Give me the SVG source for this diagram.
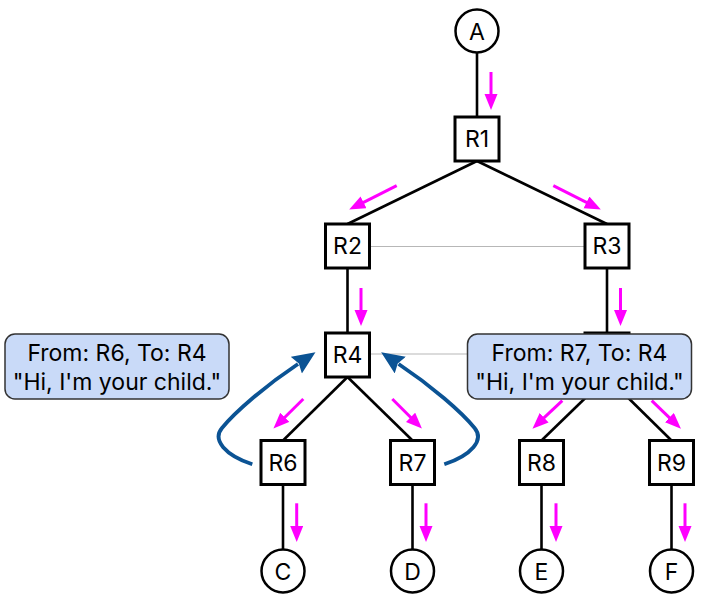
<svg xmlns="http://www.w3.org/2000/svg" width="713" height="602" viewBox="0 0 713 602">
<style>
text{font-family:Inter,Roboto,"Liberation Sans",sans-serif;fill:#000;text-anchor:middle}
.lbl{font-size:23px}
.box{fill:#fff;stroke:#000;stroke-width:3}
.cir{fill:#fff;stroke:#000;stroke-width:2.5}
.edge{stroke:#000;stroke-width:2.6;fill:none}
.peer{stroke:#b7b7b7;stroke-width:1.2;fill:none}
.flow{stroke:#ff00ff;stroke-width:3;fill:none;marker-end:url(#mh)}
.back{stroke:#0b5394;stroke-width:3.8;fill:none;marker-end:url(#bh)}
.call{fill:#c9daf8;stroke:#333;stroke-width:1.5}
.ct{font-size:23px}
</style>
<defs>
<marker id="mh" markerUnits="userSpaceOnUse" markerWidth="18" markerHeight="14" refX="1" refY="6.5" orient="auto">
<path d="M0,0 L16,6.5 L0,13 z" fill="#ff00ff"/>
</marker>
<marker id="bh" markerUnits="userSpaceOnUse" markerWidth="26" markerHeight="22" refX="2" refY="10" orient="auto">
<path d="M0,0 L23,10 L0,20 L3,10 z" fill="#0b5394"/>
</marker>
</defs>
<g id="connectors">
<line class="edge" x1="477" y1="52.5" x2="477" y2="117"/>
<line class="edge" x1="477" y1="161" x2="347.5" y2="224"/>
<line class="edge" x1="477" y1="161" x2="607" y2="224"/>
<line class="edge" x1="347.5" y1="268" x2="347.5" y2="333"/>
<line class="edge" x1="607" y1="268" x2="607" y2="333"/>
<line class="edge" x1="347.5" y1="377" x2="283" y2="440.5"/>
<line class="edge" x1="347.5" y1="377" x2="412.5" y2="440.5"/>
<line class="edge" x1="607" y1="377" x2="541.5" y2="440.5"/>
<line class="edge" x1="607" y1="377" x2="671.5" y2="440.5"/>
<line class="edge" x1="283" y1="484.5" x2="283" y2="549"/>
<line class="edge" x1="412.5" y1="484.5" x2="412.5" y2="549"/>
<line class="edge" x1="541.5" y1="484.5" x2="541.5" y2="549"/>
<line class="edge" x1="671.5" y1="484.5" x2="671.5" y2="549"/>
<line class="peer" x1="369" y1="246.5" x2="585" y2="246.5"/>
<line class="peer" x1="370" y1="354" x2="468" y2="354"/>
<line class="flow" x1="491" y1="72" x2="491" y2="95"/>
<line class="flow" x1="396.7" y1="185.7" x2="362.6" y2="202.8"/>
<line class="flow" x1="553.3" y1="185.7" x2="587.4" y2="202.8"/>
<line class="flow" x1="361" y1="288" x2="361" y2="311"/>
<line class="flow" x1="620.5" y1="288" x2="620.5" y2="311"/>
<line class="flow" x1="303.3" y1="399" x2="284.1" y2="418"/>
<line class="flow" x1="392.3" y1="399" x2="411.3" y2="418"/>
<line class="flow" x1="562.3" y1="400.7" x2="543.4" y2="418.4"/>
<line class="flow" x1="651.7" y1="400.7" x2="670.1" y2="418.3"/>
<line class="flow" x1="296.7" y1="503.3" x2="296.7" y2="527"/>
<line class="flow" x1="426" y1="503.3" x2="426" y2="527"/>
<line class="flow" x1="556" y1="503.3" x2="556" y2="527"/>
<line class="flow" x1="685" y1="503.3" x2="685" y2="527"/>
<path class="back" d="M252.3,464.3 C225,455 212,440 222,428 C235,412 265,386 298,364"/>
<path class="back" d="M444.3,464.3 C471.6,455 484.6,440 474.6,428 C461.6,412 431.6,386 398.6,364"/>
</g>
<g id="A"><circle class="cir" cx="477" cy="31" r="21.5"/><text class="lbl" x="477" y="39.5">A</text></g>
<g id="R1"><rect class="box" x="455" y="117" width="44" height="44"/><text class="lbl" x="477" y="146.5">R1</text></g>
<g id="R2"><rect class="box" x="325.5" y="224" width="44" height="44"/><text class="lbl" x="347.5" y="253.5">R2</text></g>
<g id="R3"><rect class="box" x="585" y="224" width="44" height="44"/><text class="lbl" x="607" y="253.5">R3</text></g>
<g id="R4"><rect class="box" x="325.5" y="333" width="44" height="44"/><text class="lbl" x="347.5" y="362.5">R4</text></g>
<g id="R5"><rect class="box" x="585" y="333" width="44" height="44"/></g>
<g id="R6"><rect class="box" x="261" y="440.5" width="44" height="44"/><text class="lbl" x="283" y="470.5">R6</text></g>
<g id="R7"><rect class="box" x="390.5" y="440.5" width="44" height="44"/><text class="lbl" x="412.5" y="470.5">R7</text></g>
<g id="R8"><rect class="box" x="519.5" y="440.5" width="44" height="44"/><text class="lbl" x="541.5" y="470.5">R8</text></g>
<g id="R9"><rect class="box" x="649.5" y="440.5" width="44" height="44"/><text class="lbl" x="671.5" y="470.5">R9</text></g>
<g id="C"><circle class="cir" cx="283" cy="571" r="21.5"/><text class="lbl" x="283" y="579.5">C</text></g>
<g id="D"><circle class="cir" cx="412.5" cy="571" r="21.5"/><text class="lbl" x="412.5" y="579.5">D</text></g>
<g id="E"><circle class="cir" cx="541.5" cy="571" r="21.5"/><text class="lbl" x="541.5" y="579.5">E</text></g>
<g id="F"><circle class="cir" cx="671.5" cy="571" r="21.5"/><text class="lbl" x="671.5" y="579.5">F</text></g>
<g id="msg-R6">
<rect class="call" x="5" y="334" width="224" height="65" rx="10"/>
<text class="ct" x="117" y="361">From: R6, To: R4</text>
<text class="ct" x="117" y="390">"Hi, I'm your child."</text>
</g>
<g id="msg-R7">
<rect class="call" x="467.5" y="334" width="224" height="65" rx="10"/>
<text class="ct" x="579.5" y="361">From: R7, To: R4</text>
<text class="ct" x="579.5" y="390">"Hi, I'm your child."</text>
</g>
</svg>
